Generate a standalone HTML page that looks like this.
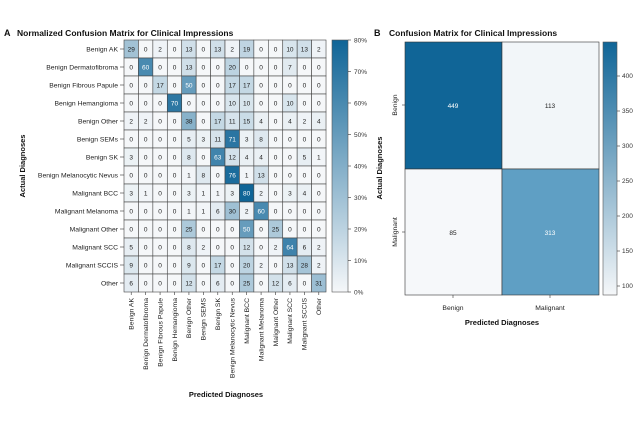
<!DOCTYPE html>
<html><head><meta charset="utf-8"><style>
body{margin:0;background:#fff}
svg{display:block;font-family:"Liberation Sans",sans-serif}
</style></head><body>
<svg id="s" width="640" height="425" viewBox="0 0 640 425">
<defs>
<linearGradient id="g" x1="0" y1="1" x2="0" y2="0">
<stop offset="0" stop-color="#f5f7f9"/><stop offset="1" stop-color="#106597"/>
</linearGradient>
</defs>
<text x="4" y="36" font-size="9" font-weight="bold" fill="#111">A</text>
<text x="17" y="36" font-size="8.5" font-weight="bold" fill="#111">Normalized Confusion Matrix for Clinical Impressions</text>
<text x="374" y="36" font-size="9" font-weight="bold" fill="#111">B</text>
<text x="389" y="36" font-size="8.5" font-weight="bold" fill="#111">Confusion Matrix for Clinical Impressions</text>
<g id="cells"></g>
<g id="txt" font-size="6.5" text-anchor="middle"></g>
<g font-size="6.8" fill="#222" text-anchor="end" id="rl">
<text x="118" y="51.5">Benign AK</text>
<text x="118" y="69.5">Benign Dermatofibroma</text>
<text x="118" y="87.5">Benign Fibrous Papule</text>
<text x="118" y="105.5">Benign Hemangioma</text>
<text x="118" y="123.5">Benign Other</text>
<text x="118" y="141.5">Benign SEMs</text>
<text x="118" y="159.5">Benign SK</text>
<text x="118" y="177.5">Benign Melanocytic Nevus</text>
<text x="118" y="195.5">Malignant BCC</text>
<text x="118" y="213.5">Malignant Melanoma</text>
<text x="118" y="231.5">Malignant Other</text>
<text x="118" y="249.5">Malignant SCC</text>
<text x="118" y="267.5">Malignant SCCIS</text>
<text x="118" y="285.5">Other</text>
</g>
<g font-size="6.8" fill="#222" text-anchor="end" id="cl"></g>
<text transform="translate(25,166) rotate(-90)" font-size="7.5" font-weight="bold" text-anchor="middle" fill="#111">Actual Diagnoses</text>
<text x="226" y="397" font-size="7.5" font-weight="bold" text-anchor="middle" fill="#111">Predicted Diagnoses</text>
<rect x="332" y="40" width="16" height="252" fill="url(#g)" stroke="#555" stroke-width="0.6"/>
<g font-size="6.5" fill="#333" id="cbA"></g>
<rect x="405" y="42" width="97" height="127" fill="#106597" stroke="#333" stroke-width="0.6"/>
<rect x="502" y="42" width="97" height="127" fill="#f2f6f9" stroke="#333" stroke-width="0.6"/>
<rect x="405" y="169" width="97" height="126" fill="#f6f8fa" stroke="#333" stroke-width="0.6"/>
<rect x="502" y="169" width="97" height="126" fill="#5f9fc4" stroke="#333" stroke-width="0.6"/>
<g font-size="6.5" text-anchor="middle">
<text x="453" y="108" fill="#fff">449</text>
<text x="550" y="108" fill="#222">113</text>
<text x="453" y="235" fill="#222">85</text>
<text x="550" y="235" fill="#fff">313</text>
</g>
<line x1="402" y1="105" x2="405" y2="105" stroke="#333" stroke-width="0.6"/>
<line x1="402" y1="232" x2="405" y2="232" stroke="#333" stroke-width="0.6"/>
<line x1="453" y1="295" x2="453" y2="298" stroke="#333" stroke-width="0.6"/>
<line x1="550" y1="295" x2="550" y2="298" stroke="#333" stroke-width="0.6"/>
<text transform="translate(397,105) rotate(-90)" font-size="6.8" text-anchor="middle" fill="#222">Benign</text>
<text transform="translate(397,232) rotate(-90)" font-size="6.8" text-anchor="middle" fill="#222">Malignant</text>
<text x="453" y="310" font-size="6.8" text-anchor="middle" fill="#222">Benign</text>
<text x="550" y="310" font-size="6.8" text-anchor="middle" fill="#222">Malignant</text>
<text x="502" y="325" font-size="7.5" font-weight="bold" text-anchor="middle" fill="#111">Predicted Diagnoses</text>
<text transform="translate(382,168) rotate(-90)" font-size="7.5" font-weight="bold" text-anchor="middle" fill="#111">Actual Diagnoses</text>
<rect x="603" y="42" width="14" height="253" fill="url(#g)" stroke="#555" stroke-width="0.6"/>
<g font-size="6.5" fill="#333">
<text x="622" y="78">400</text><text x="622" y="113">350</text><text x="622" y="148">300</text>
<text x="622" y="183">250</text><text x="622" y="218">200</text><text x="622" y="253">150</text><text x="622" y="288">100</text>
</g>
<g stroke="#333" stroke-width="0.6">
<line x1="617" y1="76" x2="620" y2="76"/><line x1="617" y1="111" x2="620" y2="111"/><line x1="617" y1="146" x2="620" y2="146"/>
<line x1="617" y1="181" x2="620" y2="181"/><line x1="617" y1="216" x2="620" y2="216"/><line x1="617" y1="251" x2="620" y2="251"/><line x1="617" y1="286" x2="620" y2="286"/>
</g>
</svg>
<script>
var D=[[29,0,2,0,13,0,13,2,19,0,0,10,13,2],[0,60,0,0,13,0,0,20,0,0,0,7,0,0],[0,0,17,0,50,0,0,17,17,0,0,0,0,0],[0,0,0,70,0,0,0,10,10,0,0,10,0,0],[2,2,0,0,38,0,17,11,15,4,0,4,2,4],[0,0,0,0,5,3,11,71,3,8,0,0,0,0],[3,0,0,0,8,0,63,12,4,4,0,0,5,1],[0,0,0,0,1,8,0,76,1,13,0,0,0,0],[3,1,0,0,3,1,1,3,80,2,0,3,4,0],[0,0,0,0,1,1,6,30,2,60,0,0,0,0],[0,0,0,0,25,0,0,0,50,0,25,0,0,0],[5,0,0,0,8,2,0,0,12,0,2,64,6,2],[9,0,0,0,9,0,17,0,20,2,0,13,28,2],[6,0,0,0,12,0,6,0,25,0,12,6,0,31]];
var C=["Benign AK","Benign Dermatofibroma","Benign Fibrous Papule","Benign Hemangioma","Benign Other","Benign SEMS","Benign SK","Benign Melanocytic Nevus","Malignant BCC","Malignant Melanoma","Malignant Other","Malignant SCC","Malignant SCCIS","Other"];
var NS="http://www.w3.org/2000/svg";
function el(t,a,p,tx){var e=document.createElementNS(NS,t);for(var k in a)e.setAttribute(k,a[k]);if(tx!=null)e.textContent=tx;document.getElementById(p).appendChild(e);return e;}
var x0=124,cw=14.43,y0=40,rh=18;
for(var i=0;i<14;i++){for(var j=0;j<14;j++){var v=D[i][j],t=Math.min(v/80,1);
var r=Math.round(245-t*229),g=Math.round(247-t*146),b=Math.round(249-t*98);
el("rect",{x:x0+j*cw,y:y0+i*rh,width:cw,height:rh,fill:"rgb("+r+","+g+","+b+")",stroke:"#444","stroke-width":0.6},"cells");
el("text",{x:x0+j*cw+cw/2,y:y0+i*rh+11.5,fill:v>=50?"#fff":"#222"},"txt",String(v));}
el("line",{x1:120,x2:124,y1:y0+i*rh+9,y2:y0+i*rh+9,stroke:"#333","stroke-width":0.6},"cells");
var cx=x0+i*cw+cw/2;
el("line",{x1:cx,x2:cx,y1:292,y2:295,stroke:"#333","stroke-width":0.6},"cells");
el("text",{transform:"translate("+(cx+2.3)+",298) rotate(-90)"},"cl",C[i]);}
for(var k=0;k<=8;k++){var y=292-k*31.5;
el("line",{x1:348,x2:351,y1:y,y2:y,stroke:"#333","stroke-width":0.6},"cbA");
el("text",{x:354,y:y+2.3},"cbA",(k*10)+"%");}
</script>
</body></html>
